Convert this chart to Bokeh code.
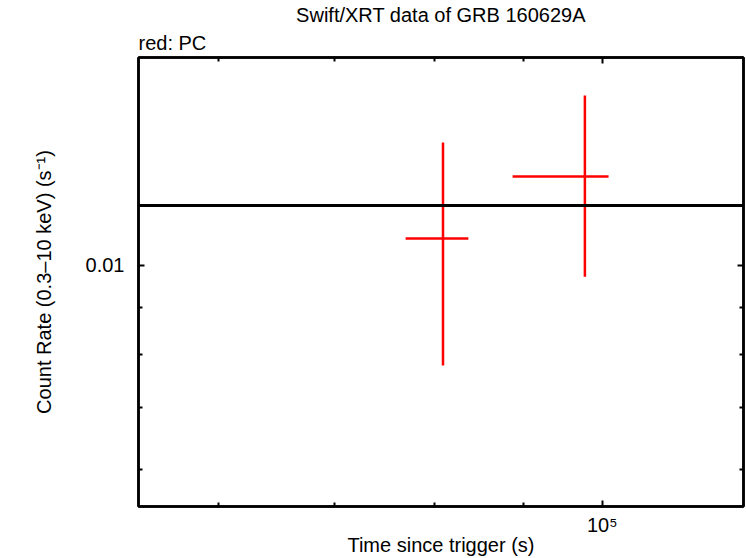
from bokeh.plotting import figure
from bokeh.models import Range1d, FixedTicker, LogAxis, Span, Title
from bokeh.embed import file_html
from bokeh.resources import INLINE

title_text = "Swift/XRT data of GRB 160629A"
legend_text = "red: PC"
x_label = "Time since trigger (s)"
y_label = "Count Rate (0.3\u201310 keV) (s\u207b\u00b9)"

x_lim = [53910, 120700]
y_lim = [0.005473, 0.01679]

x_major = [100000]
x_minor = [60000, 70000, 80000, 90000]
x_tick_labels = ["10\u2075"]
y_major = [0.01]
y_minor = [0.006, 0.007, 0.008, 0.009]
y_tick_labels = ["0.01"]

pc_time = [80880, 97710]
pc_time_lo = [76950, 88740]
pc_time_hi = [83660, 100840]
pc_rate = [0.010688, 0.012471]
pc_rate_lo = [0.007782, 0.009713]
pc_rate_hi = [0.01358, 0.015267]

model_rate = 0.01160

FONT = "Liberation Sans"
FS = "20px"

p = figure(width=746, height=558, x_axis_type="log", y_axis_type="log",
           x_range=Range1d(*x_lim), y_range=Range1d(*y_lim),
           output_backend="svg", toolbar_location=None,
           min_border_left=138, min_border_right=3,
           min_border_top=57, min_border_bottom=51)

p.background_fill_color = "white"
p.border_fill_color = "white"
p.outline_line_color = "black"
p.outline_line_width = 2.5
p.xgrid.visible = False
p.ygrid.visible = False

def style_axis(ax, ticks, minor, labels, show_labels):
    ax.ticker = FixedTicker(ticks=ticks, minor_ticks=minor)
    ax.axis_line_color = "black"
    ax.axis_line_width = 2.5
    ax.major_tick_in = 6
    ax.major_tick_out = 0
    ax.minor_tick_in = 4
    ax.minor_tick_out = 0
    ax.major_tick_line_width = 2
    ax.minor_tick_line_width = 2
    ax.major_tick_line_color = "black"
    ax.minor_tick_line_color = "black"
    if show_labels:
        ax.major_label_overrides = dict(zip(ticks, labels))
        ax.major_label_text_font = FONT
        ax.major_label_text_font_size = FS
        ax.major_label_text_color = "black"
    else:
        ax.major_label_text_font_size = "0px"
        ax.major_label_text_alpha = 0

xa = p.xaxis[0]
style_axis(xa, x_major, x_minor, x_tick_labels, True)
xa.major_label_standoff = 7
xa.axis_label = x_label
xa.axis_label_text_font = FONT
xa.axis_label_text_font_size = FS
xa.axis_label_text_font_style = "normal"
xa.axis_label_text_color = "black"
xa.axis_label_standoff = -5

ya = p.yaxis[0]
style_axis(ya, y_major, y_minor, y_tick_labels, True)
ya.major_label_standoff = 14
ya.axis_label = y_label
ya.axis_label_text_font = FONT
ya.axis_label_text_font_size = FS
ya.axis_label_text_font_style = "normal"
ya.axis_label_text_color = "black"
ya.axis_label_standoff = 28

top = LogAxis()
style_axis(top, x_major, x_minor, x_tick_labels, False)
p.add_layout(top, "above")
right = LogAxis()
style_axis(right, y_major, y_minor, y_tick_labels, False)
p.add_layout(right, "right")

p.title.text = title_text
p.title.align = "center"
p.title.text_font = FONT
p.title.text_font_size = FS
p.title.text_font_style = "normal"
p.title.text_color = "black"
p.title.standoff = 0

p.add_layout(Title(text=legend_text, align="left", text_font=FONT,
                   text_font_size=FS, text_font_style="normal",
                   text_color="black", standoff=8), "above")

p.add_layout(Span(location=model_rate, dimension="width",
                  line_color="black", line_width=3))

p.segment(x0=pc_time_lo, y0=pc_rate, x1=pc_time_hi, y1=pc_rate,
          line_color="red", line_width=2.5)
p.segment(x0=pc_time, y0=pc_rate_lo, x1=pc_time, y1=pc_rate_hi,
          line_color="red", line_width=2.5)

open("out.html", "w").write(file_html(p, INLINE))
